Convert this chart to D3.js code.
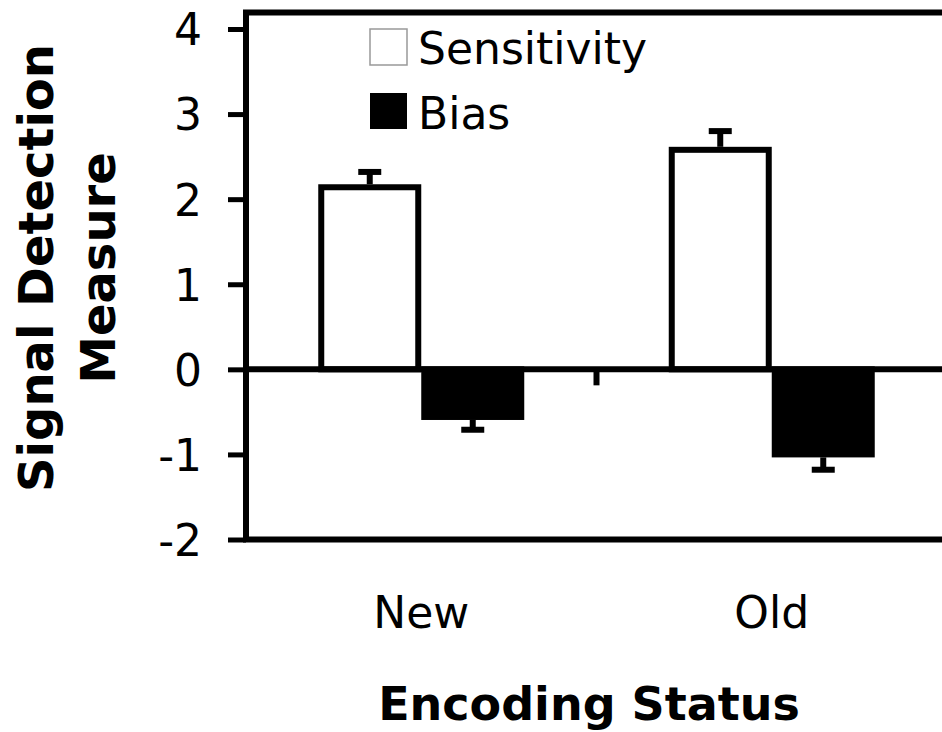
<!DOCTYPE html>
<html>
<head>
<meta charset="utf-8">
<script src="https://cdn.jsdelivr.net/npm/d3@7"></script>
<style>
  html, body { margin: 0; padding: 0; background: #fff; overflow: hidden; }
  svg { display: block; }
</style>
</head>
<body>
<svg id="chart" width="942" height="732"></svg>
<script>
// ---- data ----
const categories = ["New", "Old"];
const series = ["Sensitivity", "Bias"];
const sensitivity = [2.14, 2.58];
const sensitivityErr = [0.18, 0.22];
const bias = [-0.56, -1.00];
const biasErr = [0.15, 0.18];
const yTicks = [-2, -1, 0, 1, 2, 3, 4];
const yTitleLines = ["Signal Detection", "Measure"];
const xTitle = "Encoding Status";

// ---- layout ----
const W = 942, H = 732;
const plotLeft = 246, plotRight = 947;
const yTopTick = 29, yBottom = 539.5, frameTop = 12.5;
const stroke = 6;
const halfGroup = 103;
const capHalf = 11.5;

const svg = d3.select("#chart");

const y = d3.scaleLinear().domain([-2, 4]).range([yBottom, yTopTick]);
const x0 = d3.scaleBand().domain(categories).range([plotLeft, plotRight]).padding(0);
const bw = x0.bandwidth();
const x1 = d3.scaleBand().domain(series).range([bw / 2 - halfGroup, bw / 2 + halfGroup]).padding(0);

const rows = categories.map((c, i) => ({
  cat: c,
  vals: [
    { s: "Sensitivity", v: sensitivity[i], e: sensitivityErr[i] },
    { s: "Bias", v: bias[i], e: biasErr[i] }
  ]
}));

// bars
const g = svg.append("g");
rows.forEach(r => {
  r.vals.forEach(d => {
    const x = x0(r.cat) + x1(d.s) + stroke / 2;
    const w = x1.bandwidth() - stroke;
    const y1 = Math.min(y(d.v), y(0));
    const h = Math.abs(y(d.v) - y(0));
    g.append("rect")
      .attr("x", x).attr("y", y1).attr("width", w).attr("height", h)
      .attr("fill", d.s === "Sensitivity" ? "#fff" : "#000")
      .attr("stroke", "#000").attr("stroke-width", stroke);
    // error bar
    const cx = x0(r.cat) + x1(d.s) + x1.bandwidth() / 2;
    const sign = d.v >= 0 ? 1 : -1;
    const yEnd = y(d.v + sign * d.e);
    const yStart = y(d.v) - sign * stroke / 2;
    g.append("line")
      .attr("x1", cx).attr("x2", cx).attr("y1", yStart).attr("y2", yEnd)
      .attr("stroke", "#000").attr("stroke-width", stroke);
    g.append("line")
      .attr("x1", cx - capHalf).attr("x2", cx + capHalf).attr("y1", yEnd).attr("y2", yEnd)
      .attr("stroke", "#000").attr("stroke-width", stroke);
  });
});

// zero line (x axis)
svg.append("line")
  .attr("x1", plotLeft).attr("x2", plotRight).attr("y1", y(0)).attr("y2", y(0))
  .attr("stroke", "#000").attr("stroke-width", stroke);
// category boundary ticks
categories.slice(1).forEach(c => {
  svg.append("line")
    .attr("x1", x0(c)).attr("x2", x0(c)).attr("y1", y(0)).attr("y2", y(0) + 16)
    .attr("stroke", "#000").attr("stroke-width", stroke);
});

// frame
svg.append("rect")
  .attr("x", plotLeft).attr("y", frameTop)
  .attr("width", plotRight - plotLeft).attr("height", yBottom - frameTop)
  .attr("fill", "none").attr("stroke", "#000").attr("stroke-width", stroke);

// y axis
const yAxis = d3.axisLeft(y).tickValues(yTicks).tickSize(18).tickPadding(26)
  .tickFormat(d => String(d));
const ya = svg.append("g").attr("transform", `translate(${plotLeft},0)`).call(yAxis);
ya.select(".domain").remove();
ya.selectAll(".tick line").attr("stroke", "#000").attr("stroke-width", 5);
ya.selectAll(".tick text")
  .attr("font-family", "'DejaVu Sans', Verdana, sans-serif")
  .attr("font-size", 44).attr("fill", "#000").attr("dy", "0.36em");

// category labels
svg.append("g").selectAll("text").data(categories).join("text")
  .attr("x", d => x0(d) + bw / 2).attr("y", 628)
  .attr("text-anchor", "middle")
  .attr("font-family", "'DejaVu Sans', Verdana, sans-serif")
  .attr("font-size", 44).attr("fill", "#000")
  .text(d => d);

// x title
svg.append("text")
  .attr("x", 589).attr("y", 720).attr("text-anchor", "middle")
  .attr("font-family", "'DejaVu Sans', Verdana, sans-serif")
  .attr("font-weight", "bold").attr("font-size", 46).attr("fill", "#000")
  .text(xTitle);

// y title
const yt = svg.append("text")
  .attr("transform", "translate(0,268) rotate(-90)")
  .attr("text-anchor", "middle")
  .attr("font-family", "'DejaVu Sans', Verdana, sans-serif")
  .attr("font-weight", "bold").attr("font-size", 48).attr("fill", "#000");
yTitleLines.forEach((t, i) => {
  yt.append("tspan").attr("x", 0).attr("y", 53 + i * 62).text(t);
});

// legend
const legendX = 370;
const legend = svg.append("g");
const legendItems = [
  { s: series[0], top: 29, fill: "#fff", st: "#999", sw: 1.5, base: 64 },
  { s: series[1], top: 93, fill: "#000", st: "#000", sw: 0, base: 129 }
];
legendItems.forEach(it => {
  legend.append("rect")
    .attr("x", legendX).attr("y", it.top).attr("width", 37).attr("height", 36)
    .attr("fill", it.fill).attr("stroke", it.st).attr("stroke-width", it.sw);
  legend.append("text")
    .attr("x", 418).attr("y", it.base)
    .attr("font-family", "'DejaVu Sans', Verdana, sans-serif")
    .attr("font-size", 44).attr("fill", "#000")
    .text(it.s);
});
</script>
</body>
</html>
